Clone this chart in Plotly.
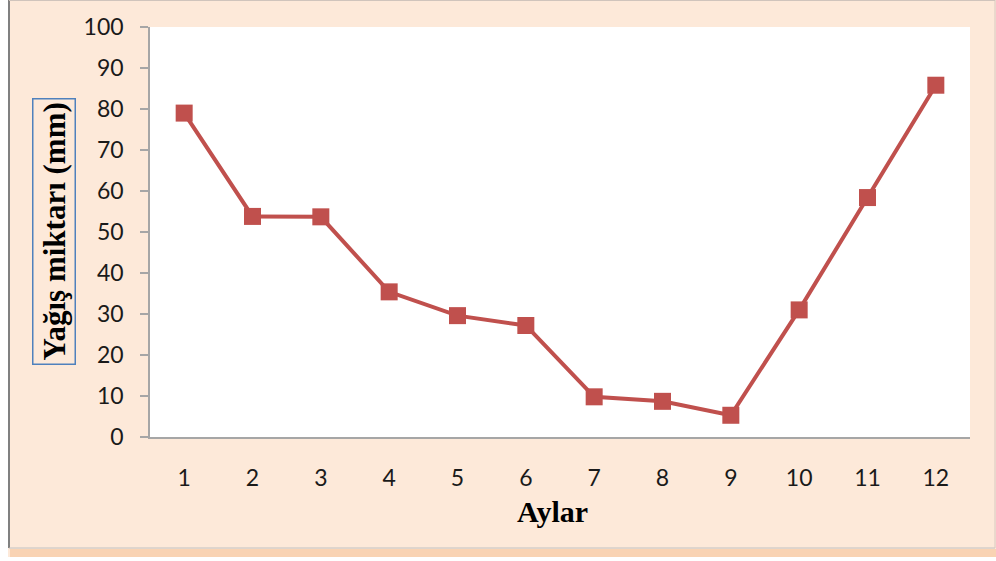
import plotly.graph_objects as go

# Monthly precipitation (mm)
months = [1, 2, 3, 4, 5, 6, 7, 8, 9, 10, 11, 12]
month_labels = ["1", "2", "3", "4", "5", "6", "7", "8", "9", "10", "11", "12"]
precip = [79.0, 53.8, 53.7, 35.4, 29.6, 27.2, 9.8, 8.7, 5.3, 31.0, 58.4, 85.8]
y_ticks = [0, 10, 20, 30, 40, 50, 60, 70, 80, 90, 100]

W, H = 996, 561
L, R, T, B = 150, 26, 27, 124
PW, PH = W - L - R, H - T - B


def px_x(px):
    return (px - L) / PW


def px_y(py):
    return (H - B - py) / PH


PEACH = "#FDE9D9"
RED = "#C0504D"
AXIS = "#A6A6A6"

fig = go.Figure()
fig.add_trace(go.Scatter(
    x=months, y=precip, mode="lines+markers",
    line=dict(color=RED, width=4),
    marker=dict(symbol="square", size=17, color=RED),
    showlegend=False, hoverinfo="skip",
))

shapes = [
    # shadow band under the panel
    dict(type="rect", xref="paper", yref="paper",
         x0=px_x(10), x1=px_x(996), y0=px_y(557), y1=px_y(549),
         fillcolor="#F9D3B3", line=dict(width=0), layer="below"),
    dict(type="rect", xref="paper", yref="paper",
         x0=px_x(0), x1=px_x(996), y0=px_y(561), y1=px_y(557),
         fillcolor="white", line=dict(width=0), layer="below"),
    dict(type="rect", xref="paper", yref="paper",
         x0=px_x(0), x1=px_x(8), y0=px_y(561), y1=px_y(0),
         fillcolor="white", line=dict(width=0), layer="below"),
    # panel border
    dict(type="line", xref="paper", yref="paper",
         x0=px_x(9), x1=px_x(9), y0=px_y(548), y1=px_y(0),
         line=dict(color="#808080", width=2)),
    dict(type="line", xref="paper", yref="paper",
         x0=px_x(9), x1=px_x(995), y0=px_y(548), y1=px_y(548),
         line=dict(color="#C0C0C0", width=1)),
    dict(type="line", xref="paper", yref="paper",
         x0=px_x(995), x1=px_x(995), y0=px_y(548), y1=px_y(0),
         line=dict(color="#D8C8C0", width=1)),
    dict(type="line", xref="paper", yref="paper",
         x0=px_x(9), x1=px_x(995), y0=px_y(0.5), y1=px_y(0.5),
         line=dict(color="#D0C4BC", width=1)),
]

annotations = [
    dict(text="<b>Yağış miktarı (mm)</b>", xref="paper", yref="paper",
         x=px_x(54), y=px_y(232), xanchor="center", yanchor="middle",
         showarrow=False, textangle=-90,
         font=dict(family="Liberation Serif", size=31, color="black"),
         bordercolor="#4F81BD", borderwidth=1.5, borderpad=3),
    dict(text="<b>Aylar</b>", xref="paper", yref="paper",
         x=px_x(552), y=px_y(511), xanchor="center", yanchor="middle",
         showarrow=False,
         font=dict(family="Liberation Serif", size=30, color="black")),
]

fig.update_layout(
    width=W, height=H,
    margin=dict(l=L, r=R, t=T, b=B),
    paper_bgcolor=PEACH, plot_bgcolor="white",
    shapes=shapes, annotations=annotations,
    xaxis=dict(
        range=[0.5, 12.5], tickmode="array", tickvals=months,
        ticktext=month_labels, ticks="", showgrid=False, zeroline=False,
        showline=True, linecolor=AXIS, linewidth=1.5,
        tickfont=dict(family="Lato", size=23, color="#1a1a1a"),
        ticklabelstandoff=20,
    ),
    yaxis=dict(
        range=[0, 100], tickmode="array", tickvals=y_ticks,
        ticks="outside", ticklen=8, tickcolor=AXIS, tickwidth=1.5,
        showgrid=False, zeroline=False,
        showline=True, linecolor=AXIS, linewidth=1.5,
        tickfont=dict(family="Lato", size=23, color="#1a1a1a"),
        ticklabelstandoff=12,
    ),
)

fig.write_html("out.html")
